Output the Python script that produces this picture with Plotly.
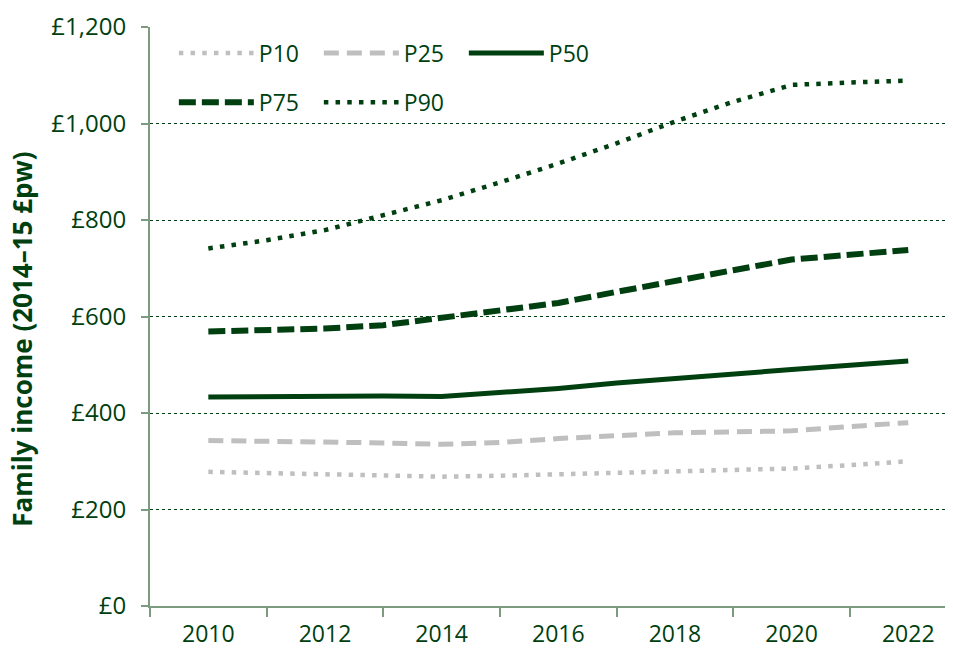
import plotly.graph_objects as go

years = list(range(2010, 2023))
p10 = [278, 276, 273, 270, 268, 270, 273, 275, 277, 280, 285, 292, 300]
p25 = [343, 342, 341, 338, 335, 339, 347, 354, 359, 361, 363, 372, 380]
p50 = [433, 434, 435, 435, 434, 442, 451, 462, 472, 481, 490, 499, 508]
p75 = [569, 572, 575, 582, 597, 613, 628, 651, 672, 696, 718, 729, 738]
p90 = [741, 758, 779, 810, 841, 878, 917, 959, 1004, 1045, 1080, 1085, 1089]

x_tick_vals = [2010, 2012, 2014, 2016, 2018, 2020, 2022]
x_minor_vals = [2009, 2011, 2013, 2015, 2017, 2019, 2021]
y_tick_vals = [0, 200, 400, 600, 800, 1000, 1200]
y_tick_text = ["£0", "£200", "£400", "£600", "£800", "£1,000", "£1,200"]

GREEN = "#003f10"
GREY = "#bfbfbf"
AXIS = "#7d9b7f"
FONT = "Open Sans"

series = [
    ("P10", p10, GREY, 4.5, "4.5px,7.2px", "legend"),
    ("P25", p25, GREY, 5, "15px,8px", "legend"),
    ("P50", p50, GREEN, 5, "solid", "legend"),
    ("P75", p75, GREEN, 6, "17px,6px", "legend2"),
    ("P90", p90, GREEN, 4.5, "4.5px,7.2px", "legend2"),
]

fig = go.Figure()
for name, vals, col, w, dash, lg in series:
    fig.add_trace(go.Scatter(
        x=years, y=vals, name=name, mode="lines",
        line=dict(color=col, width=w, dash=dash),
        legend=lg,
    ))

legend_common = dict(
    orientation="h", bgcolor="rgba(0,0,0,0)",
    font=dict(family=FONT, size=23, color=GREEN),
    xanchor="left", yanchor="middle", entrywidth=55, entrywidthmode="pixels",
    itemwidth=75, tracegroupgap=0,
)

fig.update_layout(
    width=953, height=648,
    margin=dict(l=150, r=8, t=27, b=42),
    plot_bgcolor="white", paper_bgcolor="white",
    font=dict(family=FONT, color=GREEN),
    legend=dict(x=0.03, y=0.955, **legend_common),
    legend2=dict(x=0.03, y=0.87, **legend_common),
    xaxis=dict(
        range=[2009, 2022.63], automargin=False,
        tickvals=x_tick_vals, ticktext=[str(v) for v in x_tick_vals],
        ticks="", showgrid=False, zeroline=False,
        showline=True, linecolor=AXIS, linewidth=2,
        tickfont=dict(family=FONT, size=23, color=GREEN),
        ticklabelstandoff=6,
        minor=dict(tickvals=x_minor_vals, ticks="outside", ticklen=9,
                   tickcolor=AXIS, tickwidth=1.5, showgrid=False),
    ),
    yaxis=dict(
        range=[0, 1200], automargin=False,
        tickvals=y_tick_vals, ticktext=y_tick_text,
        ticks="outside", ticklen=7, tickcolor=AXIS, tickwidth=1.5,
        showgrid=True, gridcolor=GREEN, gridwidth=1, griddash="dot",
        zeroline=False, showline=True, linecolor=AXIS, linewidth=2,
        tickfont=dict(family=FONT, size=24, color=GREEN),
        ticklabelstandoff=10,
    ),
    annotations=[dict(
        text="<b>Family income (2014–15 £pw)</b>", textangle=-90,
        xref="paper", yref="paper", x=-0.161, y=0.46,
        xanchor="center", yanchor="middle", showarrow=False,
        font=dict(family=FONT, size=26, color=GREEN),
    )],
)

fig.write_html("out.html", post_script="document.body.style.margin='0';",
               config={"displayModeBar": False})
